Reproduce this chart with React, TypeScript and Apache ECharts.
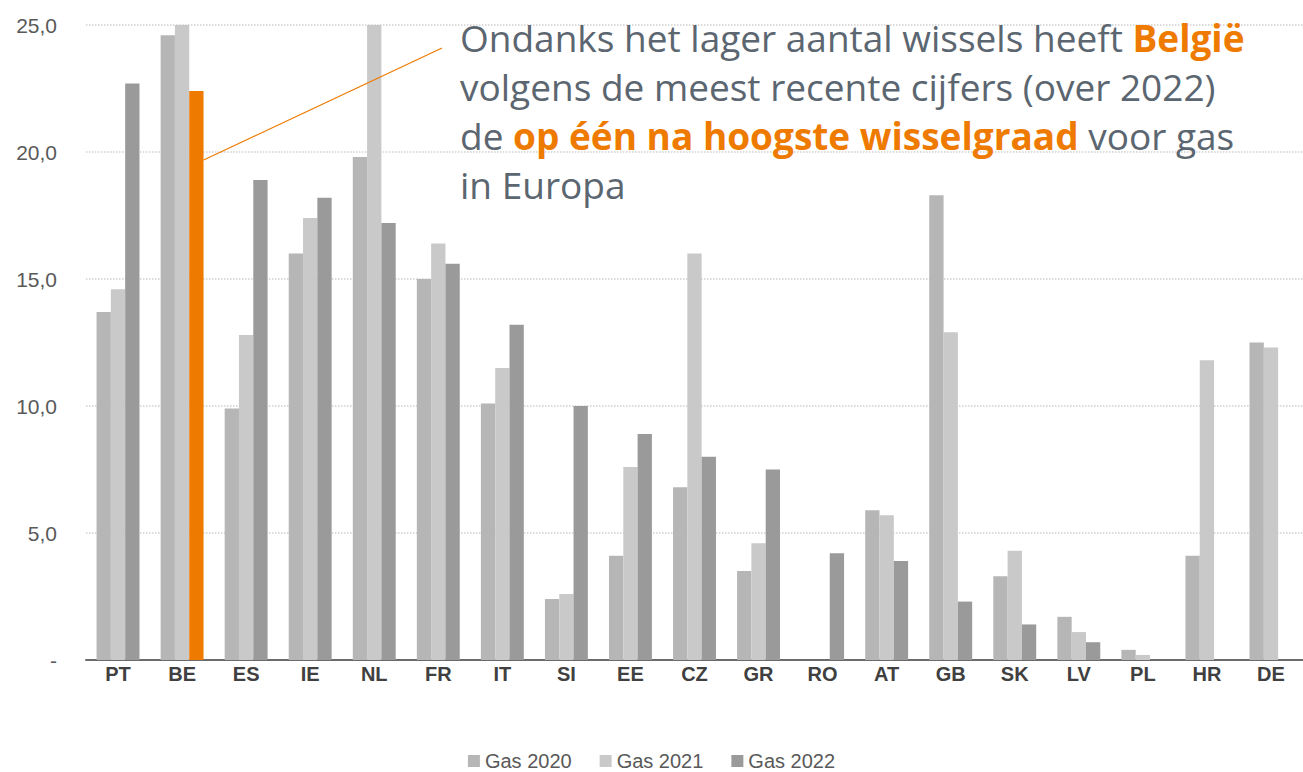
import React, { useEffect, useRef } from "react";
import * as echarts from "echarts";

const categories = ["PT", "BE", "ES", "IE", "NL", "FR", "IT", "SI", "EE", "CZ", "GR", "RO", "AT", "GB", "SK", "LV", "PL", "HR", "DE"];
const gas2020 = [13.7, 24.6, 9.9, 16.0, 19.8, 15.0, 10.1, 2.4, 4.1, 6.8, 3.5, null, 5.9, 18.3, 3.3, 1.7, 0.4, 4.1, 12.5];
const gas2021 = [14.6, 25.0, 12.8, 17.4, 25.0, 16.4, 11.5, 2.6, 7.6, 16.0, 4.6, null, 5.7, 12.9, 4.3, 1.1, 0.2, 11.8, 12.3];
const gas2022 = [22.7, 22.4, 18.9, 18.2, 17.2, 15.6, 13.2, 10.0, 8.9, 8.0, 7.5, 4.2, 3.9, 2.3, 1.4, 0.7, null, null, null];
const seriesNames = ["Gas 2020", "Gas 2021", "Gas 2022"];
const highlightCategory = "BE";

const ORANGE = "#ee7a00";
const TEXT_GREY = "#5b6670";
const NARROW = "Liberation Sans Narrow, Arial Narrow, Liberation Sans, sans-serif";

export default function App() {
  const ref = useRef<HTMLDivElement>(null);
  useEffect(() => {
    if (!ref.current) return;
    const chart = echarts.init(ref.current, null, { renderer: "svg" });
    const hiIdx = categories.indexOf(highlightCategory);
    const data2022 = gas2022.map((v, i) =>
      i === hiIdx ? { value: v, itemStyle: { color: ORANGE } } : v
    );
    const gridLeft = 86;
    const gridRight = -6;
    chart.setOption({
      animation: false,
      backgroundColor: "#ffffff",
      grid: { left: gridLeft, right: gridRight, top: 25, bottom: 112, containLabel: false },
      legend: {
        bottom: -4,
        left: "center",
        icon: "rect",
        itemWidth: 12,
        itemHeight: 12,
        itemGap: 28,
        textStyle: { color: "#595959", fontSize: 20, fontFamily: NARROW },
        data: seriesNames,
      },
      xAxis: {
        type: "category",
        data: categories,
        axisTick: { show: false },
        axisLine: { lineStyle: { color: "#6b6b6b", width: 2 } },
        axisLabel: {
          color: "#404040",
          fontSize: 20,
          fontWeight: "bold",
          margin: 4,
          fontFamily: NARROW,
        },
      },
      yAxis: {
        type: "value",
        min: 0,
        max: 25,
        interval: 5,
        axisLine: { show: false },
        axisTick: { show: false },
        splitLine: { lineStyle: { color: "#cfcfcf", type: "dotted", width: 1.5 } },
        axisLabel: {
          color: "#595959",
          fontSize: 21,
          margin: 29,
          fontFamily: NARROW,
          formatter: (v: number) => (v === 0 ? "-" : v.toFixed(1).replace(".", ",")),
        },
      },
      series: [
        { name: seriesNames[0], type: "bar", data: gas2020, barGap: "0%", barCategoryGap: "33%", itemStyle: { color: "#b6b6b6" } },
        { name: seriesNames[1], type: "bar", data: gas2021, barGap: "0%", barCategoryGap: "33%", itemStyle: { color: "#c9c9c9" } },
        { name: seriesNames[2], type: "bar", data: data2022, barGap: "0%", barCategoryGap: "33%", itemStyle: { color: "#9a9a9a" } },
      ],
    });
    // leader line from BE 2022 bar to annotation
    const p = chart.convertToPixel({ gridIndex: 0 }, [hiIdx, gas2022[hiIdx] as number]) as number[];
    const bandW = (1303 - gridLeft - gridRight) / categories.length;
    const barRight = p[0] + (bandW * 0.67) / 2;
    const fam = "'Open Sans', 'Noto Sans', sans-serif";
    const fs = 37;
    chart.setOption({
      graphic: [
        {
          type: "line",
          shape: { x1: barRight, y1: p[1] + 69, x2: 442, y2: 48 },
          style: { stroke: ORANGE, lineWidth: 1.2 },
          z: 100,
        },
        {
          type: "text",
          left: 460,
          top: 13,
          z: 100,
          style: {
            text:
              "{n|Ondanks het lager aantal wissels heeft }{b|België}\n" +
              "{n|volgens de meest recente cijfers (over 2022)}\n" +
              "{n|de }{b|op één na hoogste wisselgraad}{n| voor gas}\n" +
              "{n|in Europa}",
            fill: TEXT_GREY,
            font: `${fs}px ${fam}`,
            lineHeight: 49,
            rich: {
              n: { fill: TEXT_GREY, fontSize: fs, fontFamily: fam, lineHeight: 49 },
              b: { fill: ORANGE, fontSize: fs, fontFamily: fam, fontWeight: "bold", lineHeight: 49 },
            },
          },
        },
      ],
    });
    return () => chart.dispose();
  }, []);
  return <div ref={ref} style={{ width: 1303, height: 772, position: "absolute", left: 0, top: 0 }} />;
}
